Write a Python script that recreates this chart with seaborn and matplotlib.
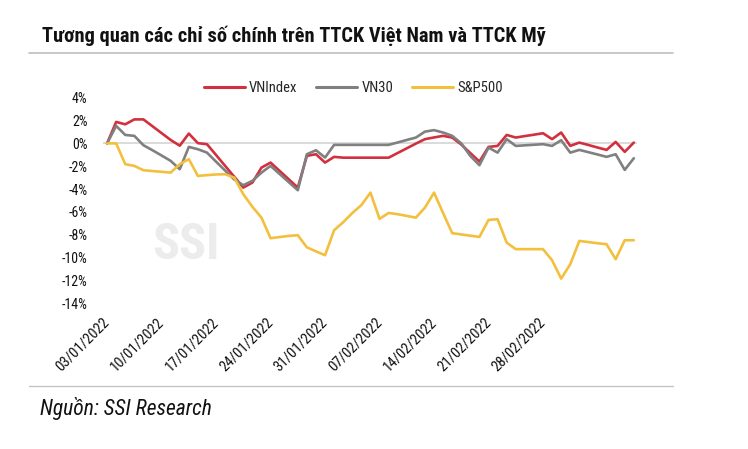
import seaborn as sns
import matplotlib.pyplot as plt
import pandas as pd
from matplotlib.lines import Line2D
from matplotlib import font_manager as fm

# ---------- DATA ----------
tick_labels = ["03/01/2022", "10/01/2022", "17/01/2022", "24/01/2022", "31/01/2022",
               "07/02/2022", "14/02/2022", "21/02/2022", "28/02/2022"]

vnindex = [0, 1.88, 1.67, 2.1, 2.1, 1.5, 0.9, 0.3, -0.2, 0.86,
           0.02, -0.07, -1.02, -1.97, -2.92, -3.87, -3.43, -2.12, -1.68, -2.41,
           -3.14, -3.87, -1.09, -0.95, -1.68, -1.18, -1.25, -1.25, -1.25, -1.25,
           -1.25, -1.25, -0.84, -0.43, -0.02, 0.37, 0.52, 0.66, 0.51, -0.1,
           -0.85, -1.59, -0.31, -0.22, 0.74, 0.51, 0.64, 0.76, 0.89, 0.37,
           0.95, -0.22, 0.07, -0.14, -0.36, -0.57, 0.13, -0.74, 0.07]

vn30 = [0, 1.53, 0.74, 0.66, -0.16, -0.6, -1.06, -1.53, -2.26, -0.31,
        -0.51, -0.81, -1.6, -2.38, -3.16, -3.66, -3.28, -2.56, -1.97, -2.68,
        -3.39, -4.1, -0.95, -0.6, -1.24, -0.13, -0.13, -0.13, -0.13, -0.13,
        -0.13, -0.13, 0.08, 0.3, 0.51, 1.03, 1.16, 0.95, 0.66, 0.0,
        -1.1, -1.91, -0.37, -0.81, 0.37, -0.22, -0.17, -0.12, -0.07, -0.22,
        0.28, -0.81, -0.57, -0.77, -0.97, -1.18, -0.95, -2.32, -1.3]

sp500 = [0, 0, -1.82, -1.97, -2.35, -2.42, -2.49, -2.56, -1.82, -1.38,
         -2.85, -2.78, -2.72, -2.7, -3.0, -4.45, -5.55, -6.5, -8.3, -8.2,
         -8.1, -8.04, -9.1, -9.45, -9.79, -7.6, -6.9, -6.1, -5.4, -4.31,
         -6.61, -6.09, -6.2, -6.35, -6.5, -5.62, -4.31, -6.1, -7.86, -7.97,
         -8.08, -8.19, -6.7, -6.64, -8.69, -9.26, -9.26, -9.26, -9.26, -10.23,
         -11.84, -10.58, -8.54, -8.64, -8.74, -8.83, -10.14, -8.48, -8.48]

series = {"VNIndex": vnindex, "VN30": vn30, "S&P500": sp500}
colors = {"VNIndex": "#d2303f", "VN30": "#808080", "S&P500": "#f3c03e"}

rows = []
for name, vals in series.items():
    for i, v in enumerate(vals):
        rows.append({"idx": i, "value": v, "series": name})
df = pd.DataFrame(rows)


# ---------- FONT: look for a narrow face that also has a bold ----------
def wnum(w):
    if isinstance(w, (int, float)):
        return w
    return {"bold": 700, "heavy": 800, "black": 900, "semibold": 600,
            "demibold": 600, "extra bold": 800}.get(str(w).lower(), 400)


narrow = {}
for f in fm.fontManager.ttflist:
    if "Narrow" in f.name or "Condensed" in f.name or \
            f.stretch in ("condensed", "semi-condensed", "extra-condensed"):
        narrow.setdefault((f.name, f.stretch), []).append(wnum(f.weight))

family, stretch, bold_w = "Liberation Sans", "normal", "bold"
pref = ["Liberation Sans Narrow", "Roboto Condensed", "DejaVu Sans Condensed"]
keys = sorted(narrow, key=lambda k: (pref.index(k[0]) if k[0] in pref else 9,
                                     -max(narrow[k])))
for k in keys:
    if max(narrow[k]) >= 600:
        family, stretch = k
        bold_w = max(narrow[k])
        break
else:
    if keys:
        family, stretch = keys[0]

# ---------- STYLE ----------
sns.set_style("white")
plt.rcParams["font.family"] = [family, "Liberation Sans", "DejaVu Sans"]
plt.rcParams["font.stretch"] = stretch

fig = plt.figure(figsize=(7.48, 4.49), dpi=100)
ax = fig.add_axes([103 / 748, 1 - 303.3 / 449, (637 - 103) / 748, (303.3 - 97.7) / 449])

# watermark
ax.text(0.155, 0.28, "SSI", transform=ax.transAxes, fontsize=36, fontweight=bold_w,
        color="#ececec", ha="center", va="center", zorder=0)

ax.axhline(0, color="#d4d4d4", lw=1.2, zorder=1)

# ---------- PLOT ----------
sns.lineplot(data=df, x="idx", y="value", hue="series", palette=colors,
             linewidth=1.9, ax=ax, zorder=3)

ax.set_xlim(-0.45, 58.35)
ax.set_ylim(-14, 4)
ax.set_yticks(range(-14, 5, 2))
ax.set_yticklabels([f"{t}%" for t in range(-14, 5, 2)], fontsize=10, color="#111111")
ax.set_xticks(range(0, 49, 6))
ax.set_xticklabels(tick_labels, rotation=45, ha="right", va="center",
                   rotation_mode="anchor", fontsize=10.5, color="#111111")
ax.tick_params(axis="both", length=0)
ax.tick_params(axis="x", pad=12)
ax.tick_params(axis="y", pad=11)
ax.set_xlabel("")
ax.set_ylabel("")
for s in ax.spines.values():
    s.set_visible(False)

leg = ax.legend(loc="center", bbox_to_anchor=(0.469, 1.047), ncol=3, frameon=False,
                fontsize=10.5, handlelength=2.8, handletextpad=0.3, columnspacing=1.3)
for line in leg.get_lines():
    line.set_linewidth(2.2)

# ---------- TITLE / SOURCE ----------
title = fig.text(42 / 748, 1 - 41.7 / 449,
                 "Tương quan các chỉ số chính trên TTCK Việt Nam và TTCK Mỹ",
                 fontsize=16.5, fontweight=bold_w, color="#111111", va="baseline")
# squeeze the title to the width it takes in the picture
fig.canvas.draw()
w = title.get_window_extent().width
title.set_fontsize(16.5 * min(1.0, 501 / w))

fig.add_artist(Line2D([29 / 748, 673 / 748], [1 - 53 / 449] * 2, color="#c4c4c4", lw=1.3))
fig.add_artist(Line2D([29 / 748, 673 / 748], [1 - 386 / 449] * 2, color="#c4c4c4", lw=1.0))
fig.text(40 / 748, 1 - 409 / 449, "Nguồn: SSI Research", fontsize=15.5, style="italic",
         color="#111111", va="center")

fig.savefig("out.png", dpi=100)
